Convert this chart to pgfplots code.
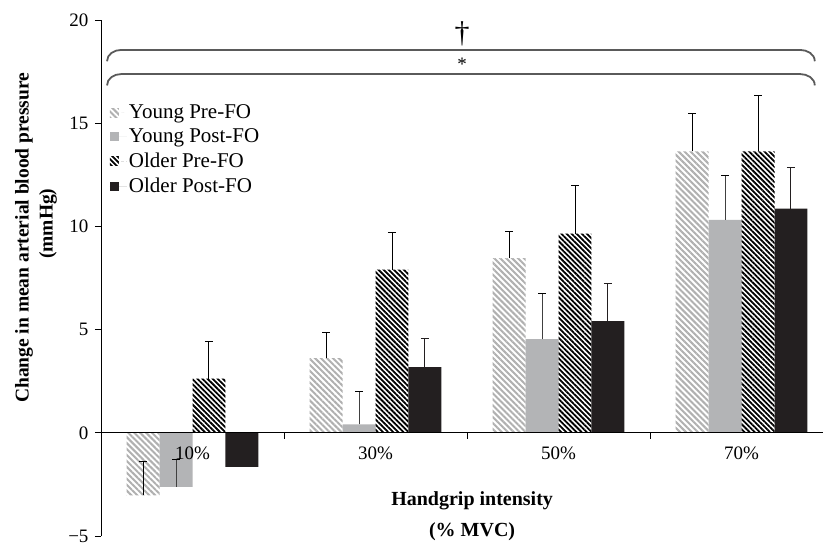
\documentclass[border=0pt]{standalone}
\usepackage{fontspec}
\setmainfont{Liberation Serif}
\usepackage{pgfplots}
\pgfplotsset{compat=1.18}
\usetikzlibrary{patterns.meta}

\definecolor{ypre}{HTML}{B0B0B0}
\definecolor{ypost}{HTML}{B3B4B6}
\definecolor{opost}{HTML}{231F20}
\definecolor{bracec}{HTML}{5A5A5A}

\begin{document}
\fontsize{19}{23}\selectfont
\begin{tikzpicture}
\begin{axis}[
  name=ax,
  scale only axis, width=722pt, height=516pt,
  xmin=-0.5, xmax=3.445, ymin=-5, ymax=20,
  clip=false, axis on top,
  axis y line=left, axis x line=middle,
  axis line style={-, line width=0.8pt, black},
  tick align=outside, major tick length=6pt,
  tick style={line width=0.8pt, black},
  ytick={-5,0,5,10,15,20}, yticklabels={−5,0,5,10,15,20},
  xtick={0,1,2,3}, xticklabels={10\%,30\%,50\%,70\%},
  xtick style={draw=none},
  extra x ticks={0.5,1.5,2.5}, extra x tick labels={},
  extra x tick style={xtick style={draw=black}},
  xticklabel style={anchor=north, yshift=-2pt},
  ybar=0pt, bar width=0.18,
  ylabel={Change in mean arterial blood pressure\\\hspace*{28pt}(mmHg)},
  ylabel style={font=\bfseries\fontsize{19.5}{24}\selectfont, align=center,
    at={(axis description cs:-0.0900,0.578)}, anchor=center},
  xlabel={Handgrip intensity\\(\% MVC)},
  xlabel style={font=\bfseries\fontsize{20}{31}\selectfont, align=center,
    at={(axis description cs:0.514,0)}, anchor=center, yshift=20pt},
  legend style={draw=none, fill=none, at={(axis description cs:0.008,0.845)},
    anchor=north west, row sep=3.5pt, font=\fontsize{21}{24}\selectfont,
    nodes={inner sep=2pt}},
  legend cell align=left,
  legend image code/.code={\path[#1] (0pt,-4.5pt) rectangle (9pt,4.5pt); \path (0pt,0pt) -- (17pt,0pt);},
  error bars/y dir=plus, error bars/y explicit,
  error bars/error bar style={line width=1pt, black},
  error bars/error mark options={rotate=90, mark size=4pt, line width=1pt, black},
]
\addplot[draw=none, pattern={Lines[angle=-45,distance=4.2pt,line width=2pt]}, pattern color=ypre]
  coordinates {(0,-3.03) +- (0,1.65) (1,3.62) +- (0,1.23) (2,8.46) +- (0,1.28) (3,13.63) +- (0,1.83)};
\addlegendentry{Young Pre-FO}
\addplot[draw=none, fill=ypost, error bars/error bar style={line width=1pt, black!75}]
  coordinates {(0,-2.62) +- (0,1.33) (1,0.41) +- (0,1.6) (2,4.54) +- (0,2.2) (3,10.32) +- (0,2.16)};
\addlegendentry{Young Post-FO}
\addplot[draw=none, pattern={Lines[angle=-45,distance=3.6pt,line width=1.8pt]}, pattern color=black]
  coordinates {(0,2.62) +- (0,1.81) (1,7.9) +- (0,1.82) (2,9.65) +- (0,2.32) (3,13.63) +- (0,2.73)};
\addlegendentry{Older Pre-FO}
\addplot[draw=none, fill=opost, error bars/error bar style={line width=1pt, opost},
  error bars/error mark options={rotate=90, mark size=4pt, line width=1pt, opost}]
  coordinates {(0,-1.65) +- (0,0.9) (1,3.18) +- (0,1.38) (2,5.41) +- (0,1.82) (3,10.86) +- (0,2.01)};
\addlegendentry{Older Post-FO}

\draw[bracec, line width=1.8pt] (axis cs:-0.467,18.0) to[out=90,in=180] (axis cs:-0.39,18.55)
  -- (axis cs:3.32,18.55) to[out=0,in=90] (axis cs:3.40,18.0);
\draw[bracec, line width=1.8pt] (axis cs:-0.467,16.83) to[out=90,in=180] (axis cs:-0.39,17.38)
  -- (axis cs:3.32,17.38) to[out=0,in=90] (axis cs:3.40,16.83);
\node[font=\fontsize{30}{32}\selectfont] at (axis cs:1.473,19.35) {†};
\node at (axis cs:1.473,17.85) {*};
\end{axis}
\pgfresetboundingbox
\path ([xshift=-101pt,yshift=-12pt]ax.south west) rectangle ([yshift=20pt]ax.north east);
\end{tikzpicture}
\end{document}
